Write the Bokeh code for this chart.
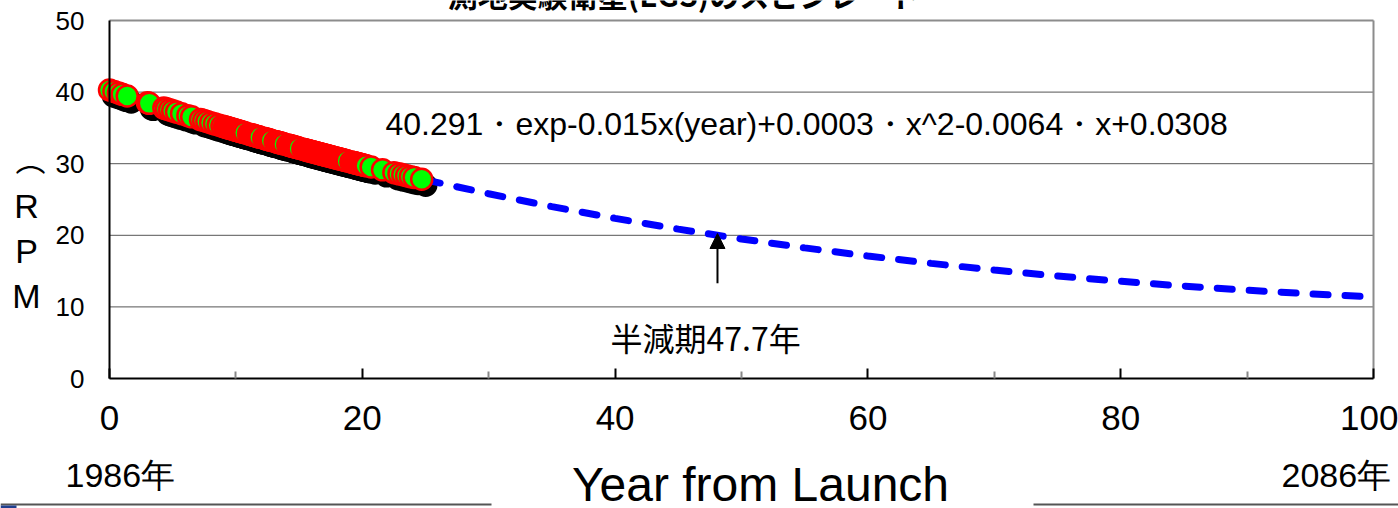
from bokeh.plotting import figure
from bokeh.models import Range1d, Label, Arrow, NormalHead, FixedTicker, BoxAnnotation, LinearAxis
from bokeh.embed import file_html
from bokeh.resources import INLINE

# ---- data ----
years = [0.0, 0.35, 0.7, 1.0, 1.4,
         3.0, 3.15,
         4.3, 4.5, 4.75, 5.0, 5.3, 5.7, 6.2, 6.5, 7.2, 7.45, 7.7, 8.0, 8.3, 8.6, 8.9,
         9.1, 9.2, 9.3, 9.4, 9.5, 9.6, 9.7, 9.8, 9.9, 10.0, 10.1, 10.2, 10.3, 10.4, 10.5, 10.6, 10.7,
         11.0, 11.1, 11.2, 11.3, 11.4, 11.5, 11.6, 11.7, 11.8, 11.9,
         12.2, 12.3, 12.4, 12.5, 12.6, 12.7, 12.8,
         13.1, 13.2, 13.3, 13.4, 13.5, 13.6, 13.7, 13.8,
         14.1, 14.2, 14.3, 14.4, 14.5, 14.6, 14.7, 14.8, 14.9, 15.0,
         15.3, 15.4, 15.5, 15.6, 15.7, 15.8, 15.9, 16.0, 16.1, 16.2, 16.3, 16.4, 16.5, 16.6, 16.7,
         16.8, 16.9, 17.0, 17.1, 17.2, 17.3, 17.4, 17.5, 17.6, 17.7, 17.8, 17.9, 18.0, 18.1, 18.2,
         18.3, 18.4, 18.5, 18.6, 18.7, 18.8,
         19.1, 19.2, 19.3, 19.4, 19.5, 19.6, 19.7, 19.8, 19.9, 20.0, 20.1, 20.2, 20.3,
         20.7, 21.6, 22.5, 22.9, 23.2, 23.5, 23.8, 24.1, 24.7]
rpm = [40.29, 40.08, 39.87, 39.69, 39.45,
       38.52, 38.43,
       37.77, 37.66, 37.52, 37.38, 37.21, 36.99, 36.71, 36.54, 36.16, 36.03, 35.89, 35.73, 35.57, 35.41, 35.25,
       35.15, 35.10, 35.04, 34.99, 34.94, 34.89, 34.84, 34.78, 34.73, 34.68, 34.63, 34.58, 34.52, 34.47, 34.42, 34.37, 34.32,
       34.16, 34.11, 34.06, 34.01, 33.96, 33.91, 33.85, 33.80, 33.75, 33.70,
       33.55, 33.50, 33.45, 33.40, 33.35, 33.30, 33.25,
       33.10, 33.05, 33.00, 32.95, 32.91, 32.86, 32.81, 32.76,
       32.61, 32.56, 32.51, 32.46, 32.42, 32.37, 32.32, 32.27, 32.22, 32.17,
       32.03, 31.98, 31.93, 31.88, 31.83, 31.79, 31.74, 31.69, 31.64, 31.60, 31.55, 31.50, 31.46, 31.41, 31.36,
       31.31, 31.27, 31.22, 31.17, 31.13, 31.08, 31.04, 30.99, 30.94, 30.90, 30.85, 30.81, 30.76, 30.71, 30.67,
       30.62, 30.58, 30.53, 30.48, 30.44, 30.39,
       30.25, 30.21, 30.16, 30.12, 30.07, 30.03, 29.98, 29.94, 29.89, 29.85, 29.80, 29.76, 29.71,
       29.53, 29.14, 28.75, 28.58, 28.45, 28.32, 28.19, 28.07, 27.82]

fit_years = [25, 30, 35, 40, 45, 50, 55, 60, 65, 70, 75, 80, 85, 90, 95, 100]
fit_rpm = [27.75, 25.80, 24.01, 22.37, 20.86, 19.49, 18.24, 17.11, 16.08, 15.15,
           14.32, 13.58, 12.91, 12.33, 11.82, 11.38]

x_ticks = [0, 20, 40, 60, 80, 100]
x_minor = [10, 30, 50, 70, 90]
y_ticks = [0, 10, 20, 30, 40, 50]

arrow_x = 48.1
arrow_y0 = 13.3
arrow_y1 = 20.25

title_text = "測地実験衛星(EGS)のスピンレート"
equation = "40.291・exp-0.015x(year)+0.0003・x^2-0.0064・x+0.0308"
half_life = "半減期47.7年"
start_year = "1986年"
end_year = "2086年"
x_title = "Year from Launch"
y_paren = "︵"
y_title = ["R", "P", "M"]

# ---- layout: the frame fills the canvas; the axes sit at fixed data positions ----
W, H = 1398, 508
PX0, PX100 = 109, 1373        # pixel columns of x = 0 and x = 100
PY0, PY50 = 378, 20           # pixel rows of y = 0 and y = 50
sx = (PX100 - PX0) / 100.0
sy = (PY0 - PY50) / 50.0
x_range = Range1d(-PX0 / sx, (W - PX0) / sx)
y_range = Range1d(-(H - PY0) / sy, PY0 / sy)

p = figure(width=W, height=H, min_border=0, x_range=x_range, y_range=y_range,
           x_axis_location=None, y_axis_location=None,
           output_backend="svg", toolbar_location=None)
p.background_fill_color = "white"
p.border_fill_color = "white"
p.outline_line_color = None
p.grid.visible = False

xa = LinearAxis(fixed_location=0, bounds=(x_ticks[0], x_ticks[-1]),
                ticker=FixedTicker(ticks=x_ticks, minor_ticks=x_minor))
xa.axis_line_color = "black"
xa.axis_line_width = 2
xa.major_tick_in = 10
xa.major_tick_out = 0
xa.major_tick_line_color = "black"
xa.major_tick_line_width = 2
xa.minor_tick_in = 7
xa.minor_tick_out = 0
xa.minor_tick_line_color = "#888888"
xa.minor_tick_line_width = 2
xa.major_label_text_font = "Liberation Sans"
xa.major_label_text_font_size = "35px"
xa.major_label_text_color = "black"
xa.major_label_standoff = 27
p.add_layout(xa, "below")

ya = LinearAxis(fixed_location=0, bounds=(y_ticks[0], y_ticks[-1]),
                ticker=FixedTicker(ticks=y_ticks))
ya.axis_line_color = "black"
ya.axis_line_width = 2
ya.major_tick_in = 0
ya.major_tick_out = 0
ya.minor_tick_in = 0
ya.minor_tick_out = 0
ya.major_label_text_font = "Liberation Sans"
ya.major_label_text_font_size = "26px"
ya.major_label_text_color = "black"
ya.major_label_standoff = 25
p.add_layout(ya, "left")

# horizontal grid lines and the grey top / right border of the plot area
grid_y = y_ticks[1:-1]
p.segment(x0=[x_ticks[0]] * len(grid_y), x1=[x_ticks[-1]] * len(grid_y),
          y0=grid_y, y1=grid_y, line_color="#555555", line_width=1)
p.segment(x0=[x_ticks[0], x_ticks[-1]], x1=[x_ticks[-1], x_ticks[-1]],
          y0=[y_ticks[-1], y_ticks[0]], y1=[y_ticks[-1], y_ticks[-1]],
          line_color="#8c8c8c", line_width=2)

# shadow offset ranges (a few pixels right and down)
dx, dy = 4 / sx, 6 / sy
p.extra_x_ranges = {"shx": Range1d(x_range.start - dx, x_range.end - dx)}
p.extra_y_ranges = {"shy": Range1d(y_range.start + dy, y_range.end + dy)}

p.scatter(years, rpm, size=21, fill_color="black", line_color="black",
          line_width=2.5, x_range_name="shx", y_range_name="shy")
p.line(fit_years, fit_rpm, line_color="#0000FF", line_width=7,
       line_dash="15 17", line_cap="round")
p.scatter(years, rpm, size=21, fill_color="#00FF00", line_color="#FF0000",
          line_width=2.5)

p.add_layout(Arrow(end=NormalHead(size=15, fill_color="black", line_color="black", line_width=1),
                   x_start=arrow_x, y_start=arrow_y0, x_end=arrow_x, y_end=arrow_y1,
                   line_color="black", line_width=2))


def lab(text, px, py, size, font="Liberation Sans", align="left",
        style="normal", angle=0.0, baseline="alphabetic"):
    # py: wanted pixel row of the text baseline
    off = 0.42 * size if baseline == "alphabetic" else 0
    p.add_layout(Label(x=px, y=H - (py - off), x_units="screen", y_units="screen",
                       text=text, text_font=font, text_font_size=f"{size}px",
                       text_align=align, text_baseline=baseline,
                       text_font_style=style, text_color="black", angle=angle))


lab(title_text, 683, 6, 30, font="Noto Sans CJK JP", align="center", style="bold")
lab(equation, 385, 137, 32)
lab(half_life, 610, 350, 32, font="Noto Sans CJK JP")
lab(start_year, 65, 489, 34)
lab(end_year, 1281, 489, 34)
lab(x_title, 760, 504, 48, align="center")

lab(y_paren, 30, 170, 30, font="Noto Sans CJK JP", align="center")
for i, ch in enumerate(y_title):
    lab(ch, 26, 220 + 45 * i, 34, align="center")

# slide decoration lines at the bottom
for l, r in [(0, 491), (1033, 1398)]:
    p.add_layout(BoxAnnotation(left=l, right=r, top=H - 503, bottom=H - 505,
                               left_units="screen", right_units="screen",
                               top_units="screen", bottom_units="screen",
                               fill_color="#555555", fill_alpha=1, line_alpha=0))
p.add_layout(BoxAnnotation(left=0, right=16, top=H - 505, bottom=H - 508,
                           left_units="screen", right_units="screen",
                           top_units="screen", bottom_units="screen",
                           fill_color="#1f3f8f", fill_alpha=1, line_alpha=0))

open("out.html", "w").write(file_html(p, INLINE))
